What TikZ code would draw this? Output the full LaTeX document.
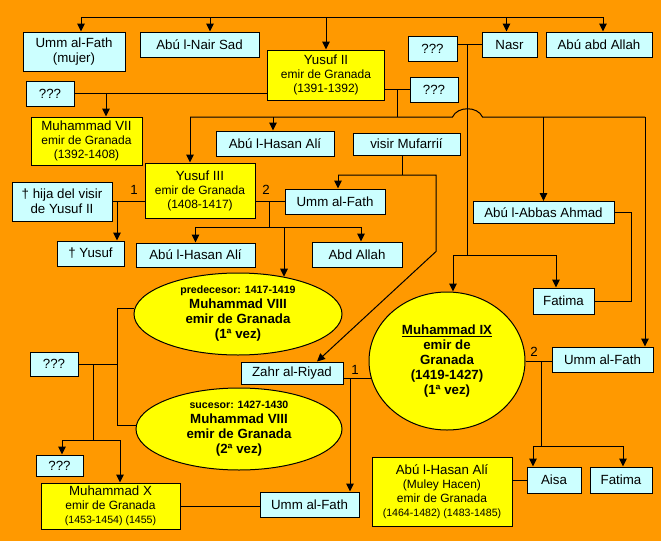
\documentclass[tikz,border=0pt]{standalone}
\usepackage{fontspec}
\setmainfont{Liberation Sans}
\usetikzlibrary{shapes.geometric,arrows.meta,calc}
\definecolor{bgorange}{HTML}{FF9900}
\definecolor{boxblue}{HTML}{CCFFFF}
\definecolor{boxyellow}{HTML}{FFFF00}
\newcommand{\emirline}{\fontsize{12}{14}\selectfont}
\newcommand{\dateline}{\fontsize{10.6}{14}\selectfont}
\begin{document}
\begin{tikzpicture}[x=1pt, y=-1pt, >={Triangle[length=8pt,width=7.5pt]},
     line width=1pt, every node/.style = 
     {draw=black, line width=1pt, inner sep=0pt, align=center,
     font=\fontsize{13.3}{15}\selectfont},
     person/.style = {fill=boxblue},
     emir/.style = {fill=boxyellow, font=\fontsize{13.3}{14}\selectfont},
     reign/.style = {ellipse, fill=boxyellow,
     font=\bfseries\fontsize{13.3}{15}\selectfont},
     num/.style = {draw=none, fill=none}]
        \fill [bgorange] (0,0) rectangle (661,541);
        \node [person, minimum width=102, minimum height=39] 
            at (74,51.5) (umfathA) {Umm al-Fath\\(mujer)};
        \node [person, minimum width=119, minimum height=25] 
            at (199.5,44.5) (nair) {Abú l-Nair Sad};
        \node [emir, minimum width=117, minimum height=50] 
            at (326,75) (yusufII) {Yusuf II\\{\emirline emir de Granada}\\{\emirline (1391-1392)}};
        \node [person, minimum width=49, minimum height=25] 
            at (432.5,48.5) (unkA) {???};
        \node [person, minimum width=55, minimum height=25] 
            at (509.5,44.5) (nasr) {Nasr};
        \node [person, minimum width=106, minimum height=25] 
            at (599,44.5) (abuabd) {Abú abd Allah};
        \node [person, minimum width=48, minimum height=25] 
            at (434,89.5) (unkB) {???};
        \node [person, minimum width=48, minimum height=25] 
            at (50,93.5) (unkC) {???};
        \node [emir, minimum width=111, minimum height=48] 
            at (86.5,141) (mhdVII) {Muhammad VII\\{\emirline emir de Granada}\\{\emirline (1392-1408)}};
        \node [person, minimum width=118, minimum height=25] 
            at (275,143.5) (hasanA) {Abú l-Hasan Alí};
        \node [person, minimum width=107, minimum height=22] 
            at (406.5,144) (mufarrij) {visir Mufarrií};
        \node [emir, minimum width=110, minimum height=55] 
            at (200,190.5) (yusufIII) {Yusuf III\\{\emirline emir de Granada}\\{\emirline (1408-1417)}};
        \node [person, minimum width=100, minimum height=39] 
            at (62,201.5) (hija) {† hija del visir\\de Yusuf II};
        \node [person, minimum width=100, minimum height=25] 
            at (335,201.5) (umfathB) {Umm al-Fath};
        \node [person, minimum width=67, minimum height=25] 
            at (90.5,253.5) (yusufD) {† Yusuf};
        \node [person, minimum width=119, minimum height=24] 
            at (195.5,255) (hasanB) {Abú l-Hasan Alí};
        \node [person, minimum width=90, minimum height=25] 
            at (357,254.5) (abdallah) {Abd Allah};
        \node [person, minimum width=141, minimum height=22] 
            at (543.5,212.5) (abbas) {Abú l-Abbas Ahmad};
        \node [person, minimum width=61, minimum height=26] 
            at (563.5,301) (fatimaA) {Fatima};
        \node [reign, minimum width=208, minimum height=82] 
            at (238,314) (mhdVIIIa) {{\dateline predecesor: 1417-1419}\\Muhammad VIII\\emir de Granada\\(1ª vez)};
        \node [reign, minimum width=156, minimum height=138] 
            at (447,361) (mhdIX) {\underline{Muhammad IX}\\emir de\\Granada\\(1419-1427)\\(1ª vez)};
        \node [person, minimum width=48, minimum height=24] 
            at (54,364) (unkD) {???};
        \node [person, minimum width=102, minimum height=22] 
            at (292,373) (zahr) {Zahr al-Riyad};
        \node [person, minimum width=101, minimum height=25] 
            at (602.5,359.5) (umfathC) {Umm al-Fath};
        \node [reign, minimum width=206, minimum height=82] 
            at (239,429) (mhdVIIIb) {{\dateline sucesor: 1427-1430}\\Muhammad VIII\\emir de Granada\\(2ª vez)};
        \node [person, minimum width=47, minimum height=21] 
            at (59.5,465.5) (unkE) {???};
        \node [emir, minimum width=139, minimum height=46] 
            at (110.5,506) (mhdX) {Muhammad X\\{\emirline emir de Granada}\\{\dateline (1453-1454) (1455)}};
        \node [person, minimum width=99, minimum height=25] 
            at (309.5,504.5) (umfathD) {Umm al-Fath};
        \node [emir, minimum width=140, minimum height=69] 
            at (442,491.5) (hacen) {Abú l-Hasan Alí\\{\emirline (Muley Hacen)}\\{\emirline emir de Granada}\\{\dateline (1464-1482) (1483-1485)}};
        \node [person, minimum width=54, minimum height=26] 
            at (554,480) (aisa) {Aisa};
        \node [person, minimum width=62, minimum height=26] 
            at (621,480) (fatimaB) {Fatima};
        \node [num] at (134,190) (oneA) {1};
        \node [num] at (266,190) (twoA) {2};
        \node [num] at (355,370) (oneB) {1};
        \node [num] at (534,352) (twoB) {2};

        \coordinate (top) at (0,17);
        \coordinate (d1) at ([xshift=7]umfathA.north);
        \coordinate (d2) at ([xshift=10.5]nair.north);
        \coordinate (d3) at (yusufII.north);
        \coordinate (d4) at ([xshift=-3]nasr.north);
        \coordinate (d5) at ([xshift=4]abuabd.north);
        \draw (d1 |- top) -- (d5 |- top);
        \draw [->] (d1 |- top) -- (d1);
        \draw [->] (d2 |- top) -- (d2);
        \draw [->] (d3 |- top) -- (d3);
        \draw [->] (d4 |- top) -- (d4);
        \draw [->] (d5 |- top) -- (d5);

        \draw (unkA.east |- nasr.west) -- (nasr.west);
        \coordinate (j1) at ([xshift=-14]nasr.west);
        \coordinate (bus2) at (0,255);
        \coordinate (d6) at ([xshift=6]mhdIX.north);
        \coordinate (d7) at ([xshift=-7.5]fatimaA.north);
        \draw [->] (j1) -- (j1 |- bus2) -| (d6);
        \draw [->] (j1 |- bus2) -| (d7);

        \draw (unkB.west -| yusufII.east) -- (unkB.west);
        \coordinate (j3) at ([xshift=-12]unkB.west);
        \coordinate (bus3) at (0,117);
        \coordinate (d8) at ([xshift=-10]yusufIII.north);
        \coordinate (d9) at ([xshift=-2]hasanA.north);
        \coordinate (d10) at (abbas.north);
        \coordinate (d11) at ([xshift=42.5]umfathC.north);
        \coordinate (hopL) at ($(j1 |- bus3)+(-15,0)$);
        \coordinate (hopR) at ($(j1 |- bus3)+(15,0)$);
        \draw (j3) -- (j3 |- bus3);
        \draw (d8 |- bus3) -- (hopL) .. controls +(5,-11) and +(-5,-11) .. (hopR)
            -- (d11 |- bus3);
        \draw [->] (d8 |- bus3) -- (d8);
        \draw [->] (d9 |- bus3) -- (d9);
        \draw [->] (d10 |- bus3) -- (d10);
        \draw [->] (d11 |- bus3) -- (d11);

        \draw (unkC.east) -- (unkC.east -| yusufII.west);
        \coordinate (d12) at ([xshift=19.5]mhdVII.north);
        \draw [->] (d12 |- unkC.east) -- (d12);

        \coordinate (bus4) at (0,175);
        \coordinate (m1) at ([xshift=-4.5]mufarrij.south);
        \coordinate (m2) at ($(mufarrij.south)+(29.5,96)$);
        \coordinate (d13) at ([xshift=3]umfathB.north);
        \coordinate (d14) at ([xshift=25]zahr.north);
        \draw (m1) -- (m1 |- bus4);
        \draw [->] (d13 |- bus4) -- (d13);
        \draw [->] (d13 |- bus4) -| (m2) -- (d14);

        \draw (hija.east) -- (hija.east -| yusufIII.west);
        \coordinate (d15) at ([xshift=26.5]yusufD.north);
        \draw [->] (d15 |- hija.east) -- (d15);

        \draw (umfathB.west -| yusufIII.east) -- (umfathB.west);
        \coordinate (j5) at ([xshift=-15]umfathB.west);
        \coordinate (bus5) at (0,227);
        \coordinate (d16) at (hasanB.north);
        \coordinate (d17) at (mhdVIIIa.39);
        \coordinate (d18) at ([xshift=4]abdallah.north);
        \draw (j5) -- (j5 |- bus5);
        \draw [->] (d18 |- bus5) -| (d16);
        \draw [->] (d18 |- bus5) -- (d18);
        \draw [->] (d17 |- bus5) -- (d17);

        \coordinate (lv) at ($(mhdVIIIa.177)+(-17,0)$);
        \draw (mhdVIIIa.177) -- (lv) |- (mhdVIIIb.178);
        \draw (unkD.east) -- (unkD.east -| lv);
        \coordinate (j6) at ($(unkD.east)+(15,0)$);
        \coordinate (bus6) at (0,440);
        \coordinate (d19) at ([xshift=2.5]unkE.north);
        \coordinate (d20) at ([xshift=9.5]mhdX.north);
        \draw (j6) -- (j6 |- bus6);
        \draw [->] (d20 |- bus6) -| (d19);
        \draw [->] (d20 |- bus6) -- (d20);

        \draw (mhdX.east) -- (mhdX.east -| umfathD.west);

        \draw (mhdIX.193 -| zahr.east) -- (mhdIX.193);
        \coordinate (d21) at ([xshift=40.5]umfathD.north);
        \draw [->] (d21 |- mhdIX.193) -- (d21);

        \draw (mhdIX.east) -- (mhdIX.east -| umfathC.west);
        \coordinate (j7) at ($(mhdIX.east)+(16,0)$);
        \coordinate (bus7) at (0,446);
        \coordinate (d22) at ([xshift=-21]aisa.north);
        \coordinate (d23) at ([xshift=2]fatimaB.north);
        \draw (j7) -- (j7 |- bus7);
        \draw [->] (d23 |- bus7) -| (d22);
        \draw [->] (d23 |- bus7) -- (d23);

        \draw (hacen.east |- aisa.west) -- (aisa.west);

        \draw (abbas.east) -- ++(17,0) |- (fatimaA.east);
\end{tikzpicture}
\end{document}
